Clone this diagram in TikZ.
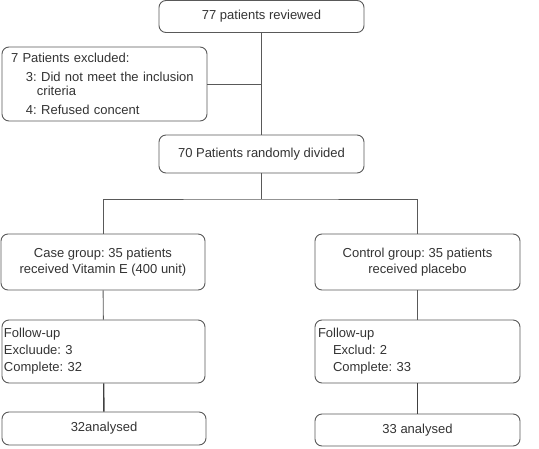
\documentclass[tikz,border=0pt]{standalone}
\usepackage{fontspec}
\setmainfont{Liberation Sans}
\frenchspacing
\begin{document}
\begin{tikzpicture}[x=1pt,y=-1pt,
  box/.style={draw=black!65, line width=0.9pt, rounded corners=7pt, inner sep=0pt,
    font=\fontsize{13}{16}\selectfont, text=black!80},
  link/.style={draw=black!65, line width=0.9pt},
  thick link/.style={draw=black!75, line width=1.4pt}]
\useasboundingbox (0,0) rectangle (539,448);
\node[box, minimum width=205, minimum height=32, align=center] (top) at (261.5,16.5) {77 patients reviewed};
\node[box, minimum width=205, minimum height=74, text width=187, inner xsep=9, align=left,
  font=\fontsize{13}{14}\selectfont] (excl) at (104.5,84)
  {7 Patients excluded:\\[5pt]
   \hspace*{15pt}3: Did not meet the inclusion\\
   \hspace*{26pt}criteria\\[5pt]
   \hspace*{15pt}4: Refused concent};
\node[box, minimum width=205, minimum height=38, align=center] (rand) at (261.5,154) {70 Patients randomly divided};
\coordinate (split) at (261.5,199);
\node[box, minimum width=204, minimum height=56, align=center] (case) at (103,262) {Case group: 35 patients\\received Vitamin E (400 unit)};
\node[box, minimum width=205, minimum height=56, align=center] (ctrl) at (417.5,262) {Control group: 35 patients\\received placebo};
\node[box, minimum width=203, minimum height=63, text width=199, inner xsep=2, align=left,
  font=\fontsize{13}{17}\selectfont] (fu1) at (103.5,351.5)
  {Follow-up\\Excluude: 3\\Complete: 32};
\node[box, minimum width=205, minimum height=63, text width=199, inner xsep=3, align=left,
  font=\fontsize{13}{17}\selectfont] (fu2) at (417.5,351.5)
  {Follow-up\\\hspace*{15pt}Exclud: 2\\\hspace*{15pt}Complete: 33};
\node[box, minimum width=204, minimum height=33, align=center] (an1) at (104,428.5) {32analysed};
\node[box, minimum width=205, minimum height=32, align=center] (an2) at (417.5,430) {33 analysed};
\draw[link] (top) -- (rand);
\draw[link] (excl.east) -- (excl.east -| top.south);
\draw[link] (rand.south) -- (split);
\draw[link] (case.north) |- (split) -| (ctrl.north);
\draw[link] (case) -- (fu1);
\draw[link] (ctrl) -- (fu2);
\draw[thick link] (fu1) -- (an1);
\draw[thick link] (fu2.south) -- (fu2.south |- an2.north);
\end{tikzpicture}
\end{document}
